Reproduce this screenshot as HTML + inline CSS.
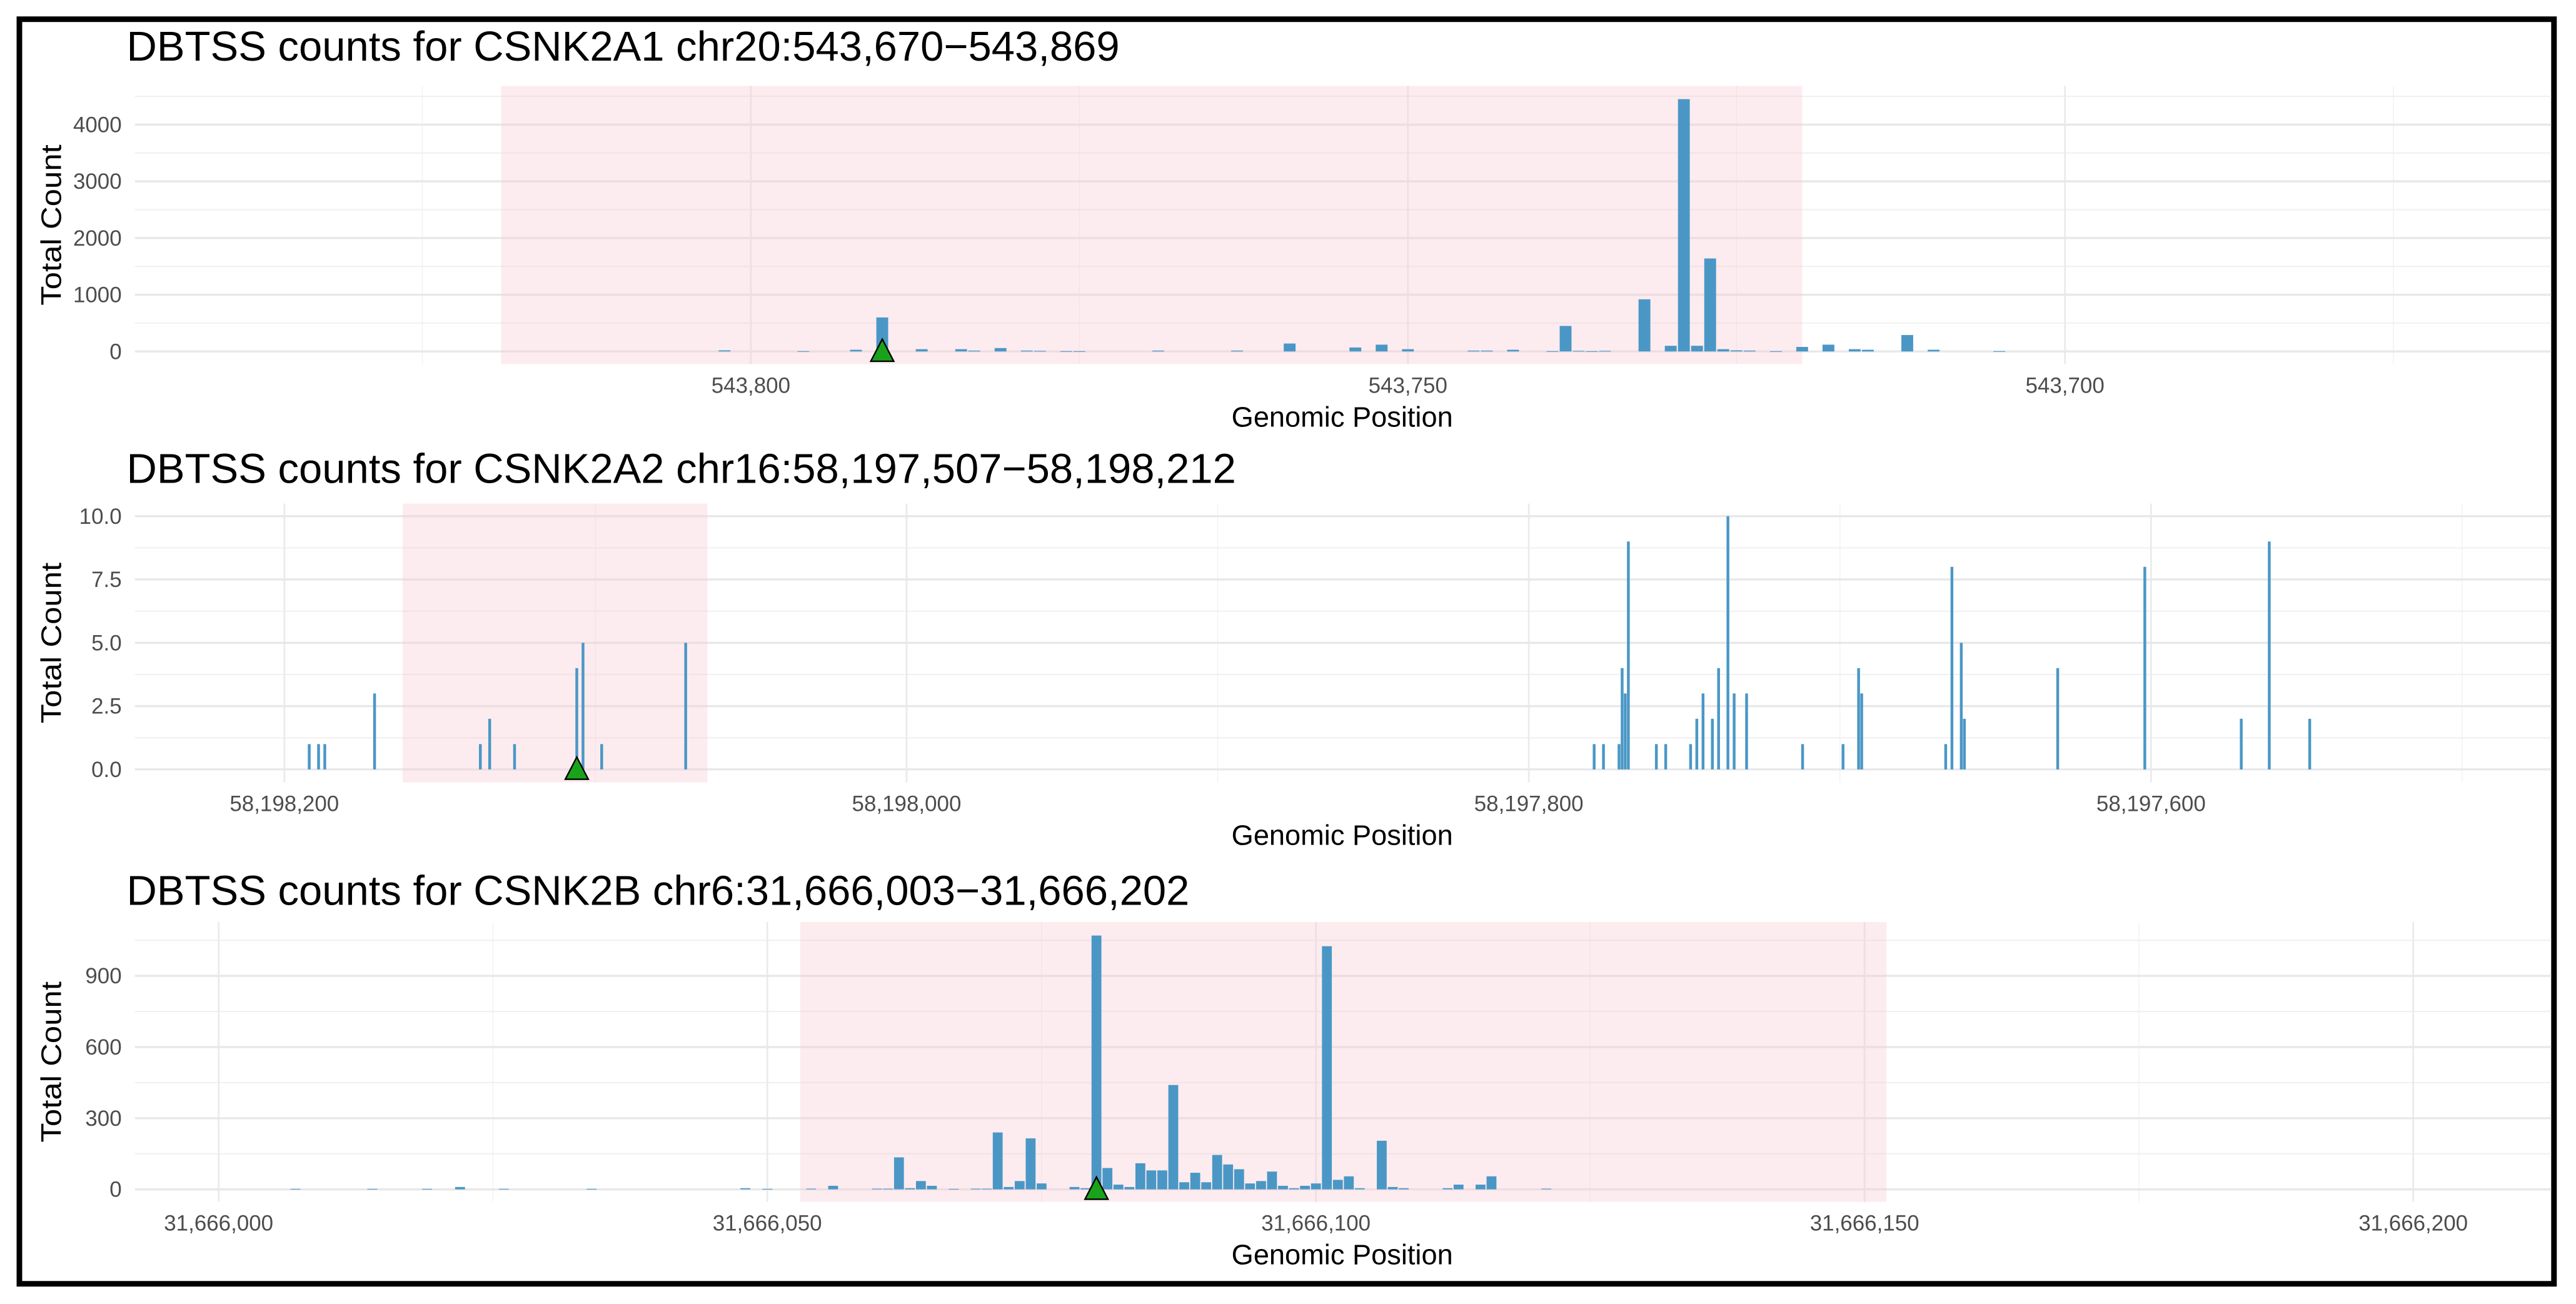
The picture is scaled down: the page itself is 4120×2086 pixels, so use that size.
<!DOCTYPE html>
<html><head><meta charset="utf-8"><style>
html,body{margin:0;padding:0;background:#fff;}
svg{display:block;font-family:"Liberation Sans",Arial,sans-serif;}
</style></head><body>
<svg id="chart" width="4120" height="2086" viewBox="0 0 1568 794" xmlns="http://www.w3.org/2000/svg">
<rect x="0" y="0" width="1568" height="794" fill="#fff"/>
<rect x="11.7" y="11.7" width="1543" height="770" fill="none" stroke="#000" stroke-width="3.4"/>
</svg>
<script>
// Panel 1: CSNK2A1
const p1Positions = [543802,543796,543792,543790,543787,543784,543783,543781,543779,543778,543776,543775,543769,543763,543759,543754,543752,543750,543745,543744,543742,543739,543738,543737,543736,543735,543732,543730,543729,543728,543727,543726,543725,543724,543722,543720,543718,543716,543715,543712,543710,543705];
const p1Counts = [20,5,30,600,40,40,15,60,15,10,5,5,15,15,140,70,120,40,15,15,30,5,450,10,5,10,920,100,4450,100,1640,40,20,15,5,80,120,40,30,290,30,5];
const p1YTicks = [0,1000,2000,3000,4000];
const p1XTicks = [543800,543750,543700];
const p1XTickLabels = ["543,800","543,750","543,700"];
const p1TSS = 543790;
const p1Region = [543819,543720];

// Panel 2: CSNK2A2
const p2Positions = [58198192,58198189,58198187,58198171,58198137,58198134,58198126,58198106,58198104,58198098,58198071,58197779,58197776,58197771,58197770,58197769,58197768,58197759,58197756,58197748,58197746,58197744,58197741,58197739,58197736,58197734,58197730,58197712,58197699,58197694,58197693,58197666,58197664,58197661,58197660,58197630,58197602,58197571,58197562,58197549];
const p2Counts = [1,1,1,3,1,2,1,4,5,1,5,1,1,1,4,3,9,1,1,1,2,3,2,4,10,3,3,1,1,4,3,1,8,5,2,4,8,2,9,2];
const p2YTicks = [0,2.5,5,7.5,10];
const p2YTickLabels = ["0.0","2.5","5.0","7.5","10.0"];
const p2XTicks = [58198200,58198000,58197800,58197600];
const p2XTickLabels = ["58,198,200","58,198,000","58,197,800","58,197,600"];
const p2TSS = 58198106;
const p2Region = [58198162,58198064];

// Panel 3: CSNK2B
const p3Positions = [31666007,31666014,31666019,31666022,31666026,31666034,31666048,31666050,31666054,31666056,31666060,31666061,31666062,31666063,31666064,31666065,31666067,31666069,31666070,31666071,31666072,31666073,31666074,31666075,31666078,31666079,31666080,31666081,31666082,31666083,31666084,31666085,31666086,31666087,31666088,31666089,31666090,31666091,31666092,31666093,31666094,31666095,31666096,31666097,31666098,31666099,31666100,31666101,31666102,31666103,31666104,31666106,31666107,31666108,31666112,31666113,31666115,31666116,31666121];
const p3Counts = [2,2,2,10,2,2,5,2,3,15,3,3,135,5,35,15,2,3,3,240,10,35,215,25,10,5,1070,90,20,10,110,80,80,440,30,70,30,145,105,85,25,35,75,15,5,15,25,1025,40,55,5,205,10,5,5,20,20,55,3];
const p3YTicks = [0,300,600,900];
const p3XTicks = [31666000,31666050,31666100,31666150,31666200];
const p3XTickLabels = ["31,666,000","31,666,050","31,666,100","31,666,150","31,666,200"];
const p3TSS = 31666080;
const p3Region = [31666053,31666152];

const NS = "http://www.w3.org/2000/svg";
const svg = document.getElementById('chart');
function mk(tag, attrs, parent) {
  const e = document.createElementNS(NS, tag);
  for (const k in attrs) e.setAttribute(k, attrs[k]);
  (parent || svg).appendChild(e);
  return e;
}

function drawPanel(cfg) {
  const g = mk('g', {});
  
  
  const xs = p => cfg.x0 + (p - cfg.p0) * cfg.ppb;
  const ys = v => cfg.yZero - v * cfg.ppu;
  cfg.xTicks.forEach((t, i) => {
    const xm = xs(t + cfg.xStep / 2);
    if (xm > cfg.left && xm < cfg.right) {
      const l = mk('line', {x1: xm, x2: xm, y1: cfg.top, y2: cfg.bottom, stroke: '#f3f3f3', 'stroke-width': 0.6}, g);
      
      
    }
    const xm2 = xs(t - cfg.xStep / 2);
    if (i === 0 && xm2 > cfg.left && xm2 < cfg.right) {
      const l = mk('line', {x1: xm2, x2: xm2, y1: cfg.top, y2: cfg.bottom, stroke: '#f3f3f3', 'stroke-width': 0.6}, g);
      
      
    }
  });
  const yStep = cfg.yTicks[1] - cfg.yTicks[0];
  cfg.yTicks.forEach(t => {
    const ym = ys(t + yStep / 2);
    if (ym > cfg.top) {
      const l = mk('line', {x1: cfg.left, x2: cfg.right, y1: ym, y2: ym, stroke: '#f0f0f0', 'stroke-width': 0.8}, g);
      
      
    }
  });
  cfg.xTicks.forEach(t => {
    const x = xs(t);
    const l = mk('line', {x1: x, x2: x, y1: cfg.top, y2: cfg.bottom, stroke: '#ebebeb', 'stroke-width': 1.1}, g);
    
    
  });
  cfg.yTicks.forEach(t => {
    const y = ys(t);
    const l = mk('line', {x1: cfg.left, x2: cfg.right, y1: y, y2: y, stroke: '#e8e8e8', 'stroke-width': 1.3}, g);
    
    
  });
  const rx1 = xs(cfg.region[0]), rx2 = xs(cfg.region[1]);
  const r = mk('rect', {x: Math.min(rx1, rx2), y: cfg.top, width: Math.abs(rx2 - rx1), height: cfg.bottom - cfg.top, fill: 'rgb(250,200,210)', 'fill-opacity': 0.35}, g);
  
  
  const bw = Math.abs(cfg.ppb) * 0.9;
  cfg.positions.forEach((p, i) => {
    const v = cfg.counts[i];
    const y = ys(v);
    const b = mk('rect', {x: xs(p) - bw / 2, y: y, width: bw, height: Math.max(cfg.yZero - y, 0.4), fill: '#4a97c6'}, g);
    
    
  });
  const tx = xs(cfg.tss), ty = cfg.yZero;
  const tri = mk('polygon', {points: `${tx},${ty - 7.5} ${tx - 7},${ty + 6} ${tx + 7},${ty + 6}`, fill: '#1aa31a', stroke: '#000', 'stroke-width': 0.9}, g);
  
  
  cfg.yTicks.forEach((t, i) => {
    const tl = mk('text', {x: 74, y: ys(t) + 4.6, 'text-anchor': 'end', 'font-size': 13.3, fill: '#4d4d4d'}, g);
    tl.textContent = cfg.yLabels ? cfg.yLabels[i] : String(t);
    
    
  });
  cfg.xTicks.forEach((t, i) => {
    const tl = mk('text', {x: xs(t), y: cfg.bottom + 17.5, 'text-anchor': 'middle', 'font-size': 13.3, fill: '#4d4d4d'}, g);
    tl.textContent = cfg.xLabels[i];
    
    
  });
  const xt = mk('text', {x: 817, y: cfg.bottom + 38, 'text-anchor': 'middle', 'font-size': 17.2, fill: '#000'}, g);
  xt.textContent = 'Genomic Position';
  
  
  const cy = (cfg.top + cfg.bottom) / 2;
  const yt = mk('text', {x: 37, y: cy, 'text-anchor': 'middle', 'font-size': 17.2, fill: '#000', textLength: 98, lengthAdjust: 'spacingAndGlyphs', transform: `rotate(-90 37 ${cy})`}, g);
  yt.textContent = 'Total Count';
  
  
  const ti = mk('text', {x: 77, y: cfg.titleY, 'font-size': 25.5, fill: '#000'}, g);
  ti.textContent = cfg.title;
  
  
}

drawPanel({name: 'panel-csnk2a1', title: 'DBTSS counts for CSNK2A1 chr20:543,670\u2212543,869', titleY: 37,
  x0: 457, p0: 543800, ppb: -8, xStep: -50, left: 82, right: 1553, top: 52.3, bottom: 221.7,
  yZero: 214, ppu: 138.1 / 4000, positions: p1Positions, counts: p1Counts, yTicks: p1YTicks,
  xTicks: p1XTicks, xLabels: p1XTickLabels, tss: p1TSS, region: p1Region});
drawPanel({name: 'panel-csnk2a2', title: 'DBTSS counts for CSNK2A2 chr16:58,197,507\u221258,198,212', titleY: 294,
  x0: 173, p0: 58198200, ppb: -1.894, xStep: -200, left: 82, right: 1553, top: 306.6, bottom: 476.4,
  yZero: 468.5, ppu: 15.42, positions: p2Positions, counts: p2Counts, yTicks: p2YTicks, yLabels: p2YTickLabels,
  xTicks: p2XTicks, xLabels: p2XTickLabels, tss: p2TSS, region: p2Region});
drawPanel({name: 'panel-csnk2b', title: 'DBTSS counts for CSNK2B chr6:31,666,003\u221231,666,202', titleY: 551,
  x0: 133, p0: 31666000, ppb: 6.68, xStep: 50, left: 82, right: 1553, top: 561.4, bottom: 731.8,
  yZero: 724.2, ppu: 130 / 900, positions: p3Positions, counts: p3Counts, yTicks: p3YTicks,
  xTicks: p3XTicks, xLabels: p3XTickLabels, tss: p3TSS, region: p3Region});
</script>
</body></html>
